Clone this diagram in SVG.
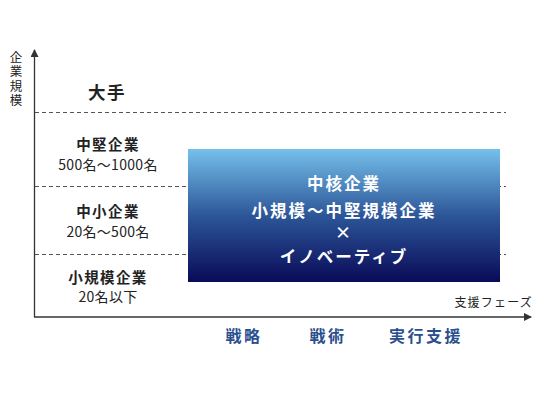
<svg xmlns="http://www.w3.org/2000/svg" width="550" height="400" viewBox="0 0 550 400">
<style>
.t{font-family:"Noto Sans CJK JP","Noto Sans",sans-serif;fill:#222;text-anchor:middle}
.b{font-weight:bold}
.w{fill:#fff;font-weight:bold;font-size:16.5px;letter-spacing:2px}
.p{fill:#2b4f8e;font-weight:bold;font-size:16px;letter-spacing:2.5px}
.d{stroke:#555;stroke-width:1;stroke-dasharray:4,3;fill:none}
.ax{stroke:#333;stroke-width:1.3;fill:none}
</style>
<defs>
<linearGradient id="g" x1="0" y1="0" x2="0" y2="1">
<stop offset="0" stop-color="#76c0eb"/>
<stop offset="0.5" stop-color="#2c5698"/>
<stop offset="1" stop-color="#0a0a58"/>
</linearGradient>
<marker id="ah" markerWidth="8" markerHeight="8" refX="7" refY="4" orient="auto" markerUnits="userSpaceOnUse">
<path d="M0,0 L8,4 L0,8 Z" fill="#333"/>
</marker>
</defs>
<g id="connectors">
<line class="ax" x1="34.5" y1="317" x2="34.5" y2="50" marker-end="url(#ah)"/>
<line class="ax" x1="34" y1="317" x2="531" y2="317" marker-end="url(#ah)"/>
<line class="d" x1="35" y1="112.5" x2="506" y2="112.5"/>
<line class="d" x1="35" y1="186.5" x2="506" y2="186.5"/>
<line class="d" x1="35" y1="254.5" x2="506" y2="254.5"/>
</g>
<g id="axis-y-label">
<text class="t" font-size="12.5" x="16" y="51" style="writing-mode:vertical-rl;text-anchor:start;letter-spacing:1.8px">企業規模</text>
</g>
<g id="axis-x-label">
<text class="t" font-size="12" x="533" y="307" style="text-anchor:end;letter-spacing:1.2px">支援フェーズ</text>
</g>
<g id="large"><text class="t b" font-size="17.5" x="107" y="99" style="letter-spacing:1.5px">大手</text></g>
<g id="mid">
<text class="t b" font-size="14.5" x="108" y="150" style="letter-spacing:1.4px">中堅企業</text>
<text class="t" font-size="14" x="108" y="170" style="letter-spacing:0.3px">500名～1000名</text>
</g>
<g id="sme">
<text class="t b" font-size="14.5" x="108" y="217" style="letter-spacing:1.4px">中小企業</text>
<text class="t" font-size="14" x="108" y="237" style="letter-spacing:0.3px">20名～500名</text>
</g>
<g id="small">
<text class="t b" font-size="14.5" x="108" y="283" style="letter-spacing:1.4px">小規模企業</text>
<text class="t" font-size="14" x="108" y="302" style="letter-spacing:0.3px">20名以下</text>
</g>
<g id="core">
<rect x="188" y="149" width="312" height="133" fill="url(#g)"/>
<text class="t w" x="344" y="190">中核企業</text>
<text class="t w" x="344" y="217">小規模～中堅規模企業</text>
<text class="t w" x="344" y="239">×</text>
<text class="t w" x="344" y="263">イノベーティブ</text>
</g>
<g id="phases">
<text class="t p" x="244" y="342">戦略</text>
<text class="t p" x="328" y="342">戦術</text>
<text class="t p" x="426" y="342">実行支援</text>
</g>
</svg>
